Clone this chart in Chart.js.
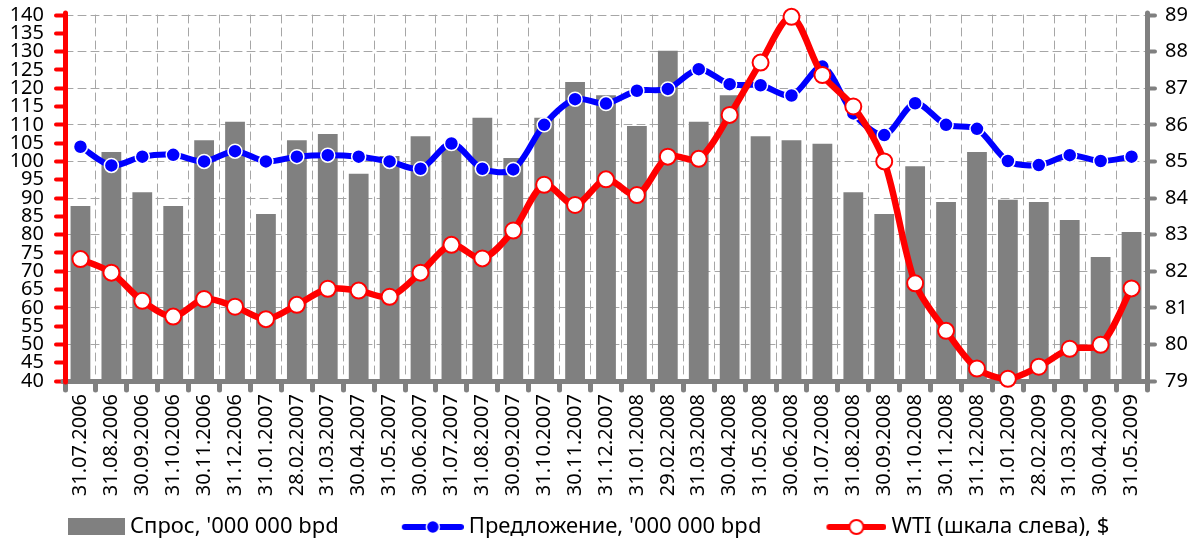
<!DOCTYPE html>
<html>
<head>
<meta charset="utf-8">
<script src="https://cdn.jsdelivr.net/npm/chart.js@4.4.1/dist/chart.umd.min.js"></script>
<style>
  html, body { margin: 0; padding: 0; background: #fff; }
  #wrap { width: 1194px; height: 545px; }
</style>
</head>
<body>
<div id="wrap"><canvas id="chart" width="1194" height="545"></canvas></div>
<script>
// month-end dates on the category axis
const dates = [
  '31.07.2006', '31.08.2006', '30.09.2006', '31.10.2006', '30.11.2006', '31.12.2006',
  '31.01.2007', '28.02.2007', '31.03.2007', '30.04.2007', '31.05.2007', '30.06.2007',
  '31.07.2007', '31.08.2007', '30.09.2007', '31.10.2007', '30.11.2007', '31.12.2007',
  '31.01.2008', '29.02.2008', '31.03.2008', '30.04.2008', '31.05.2008', '30.06.2008',
  '31.07.2008', '31.08.2008', '30.09.2008', '31.10.2008', '30.11.2008', '31.12.2008',
  '31.01.2009', '28.02.2009', '31.03.2009', '30.04.2009', '31.05.2009'
];

// demand, '000 000 bpd (right scale)
const demand = [
  83.78, 85.26, 84.16, 83.78, 85.58, 86.08, 83.56, 85.58, 85.75, 84.66,
  85.15, 85.69, 85.45, 86.19, 85.09, 86.19, 87.17, 86.81, 85.97, 88.02,
  86.08, 86.81, 85.69, 85.58, 85.48, 84.16, 83.56, 84.87, 83.89, 85.26,
  83.95, 83.89, 83.40, 82.39, 83.07
];

// supply, '000 000 bpd (right scale)
const supply = [
  85.40, 84.89, 85.13, 85.18, 85.00, 85.28, 85.00, 85.13, 85.17, 85.13,
  85.00, 84.80, 85.49, 84.80, 84.78, 86.00, 86.70, 86.58, 86.93, 86.98,
  87.52, 87.11, 87.08, 86.80, 87.59, 86.31, 85.72, 86.59, 86.00, 85.89,
  85.01, 84.90, 85.17, 85.01, 85.13
];

// WTI, $ (left scale)
const wti = [
  73.3, 69.6, 61.9, 57.6, 62.4, 60.3, 56.9, 60.8, 65.2, 64.7,
  63.0, 69.6, 77.2, 73.5, 81.1, 93.6, 88.1, 95.1, 90.8, 101.3,
  100.7, 112.7, 127.0, 139.5, 123.6, 115.0, 100.0, 66.7, 53.7, 43.4,
  40.6, 43.9, 48.8, 49.9, 65.3
];

const seriesNames = ["Спрос, '000 000 bpd", "Предложение, '000 000 bpd", 'WTI (шкала слева), $'];

const leftMin = 40, leftMax = 140, leftStep = 5;
const rightMin = 79, rightMax = 89, rightStep = 1;

const FONT = { family: "'Noto Sans', 'Open Sans', sans-serif", size: 20 };
const LEGEND_FONT = { family: "'Noto Sans', 'Open Sans', sans-serif", size: 22 };
const GRAY = '#808080';
const BOX_W = 101; // legend box, symbol sits at its right end

// legend symbols drawn on small canvases (right-aligned, transparent on the left)
function legendSymbol(kind) {
  const c = document.createElement('canvas');
  c.width = BOX_W + 12; c.height = 22;
  const g = c.getContext('2d');
  const r = c.width;
  if (kind === 'bar') {
    g.fillStyle = GRAY;
    g.fillRect(r - 57, 2, 57, 17);
  } else {
    const col = kind === 'blue' ? '#0000ff' : '#ff0000';
    const len = kind === 'blue' ? 62 : 60;
    const cx = r - len / 2;
    g.strokeStyle = col;
    g.lineWidth = 6;
    g.lineCap = 'round';
    g.beginPath(); g.moveTo(r - len + 3, 11); g.lineTo(r - 3, 11); g.stroke();
    g.beginPath();
    g.arc(cx, 11, kind === 'blue' ? 6.5 : 7, 0, Math.PI * 2);
    if (kind === 'blue') {
      g.fillStyle = col; g.fill();
      g.strokeStyle = '#fff'; g.lineWidth = 1.5; g.stroke();
    } else {
      g.fillStyle = '#fff'; g.fill();
      g.strokeStyle = col; g.lineWidth = 2; g.stroke();
    }
  }
  return c;
}
const symbols = [legendSymbol('bar'), legendSymbol('blue'), legendSymbol('red')];

// rounded ends on axis lines and tick marks
const roundCaps = {
  id: 'roundCaps',
  beforeDraw(chart) { chart.ctx.lineCap = 'round'; }
};

// fixed axis sizes, no extra label padding above the plot
function fixWidth(w) {
  return function (s) {
    s.width = w;
    s.paddingTop = 0;
    s.paddingBottom = 0;
  };
}

new Chart(document.getElementById('chart'), {
  type: 'bar',
  data: {
    labels: dates,
    datasets: [
      {
        type: 'bar',
        label: seriesNames[0],
        data: demand,
        yAxisID: 'yR',
        backgroundColor: GRAY,
        barPercentage: 0.64,
        categoryPercentage: 1,
        order: 3
      },
      {
        type: 'line',
        label: seriesNames[1],
        data: supply,
        yAxisID: 'yR',
        borderColor: '#0000ff',
        borderWidth: 6,
        pointRadius: 7,
        pointBackgroundColor: '#0000ff',
        pointBorderColor: '#ffffff',
        pointBorderWidth: 1.5,
        tension: 0.3,
        clip: false,
        order: 2
      },
      {
        type: 'line',
        label: seriesNames[2],
        data: wti,
        yAxisID: 'yL',
        borderColor: '#ff0000',
        borderWidth: 6.5,
        pointRadius: 8,
        pointBackgroundColor: '#ffffff',
        pointBorderColor: '#ff0000',
        pointBorderWidth: 2,
        tension: 0.3,
        clip: false,
        order: 1
      }
    ]
  },
  options: {
    responsive: false,
    animation: false,
    devicePixelRatio: 1,
    layout: { padding: { top: 15, left: 0, right: 0, bottom: -3 } },
    plugins: {
      tooltip: { enabled: false },
      legend: {
        position: 'bottom',
        align: 'start',
        labels: {
          usePointStyle: true,
          pointStyleWidth: BOX_W,
          padding: 18,
          color: '#000',
          font: LEGEND_FONT,
          sort: (a, b) => a.datasetIndex - b.datasetIndex,
          generateLabels(chart) {
            const items = Chart.defaults.plugins.legend.labels.generateLabels(chart);
            items.forEach(it => { it.pointStyle = symbols[it.datasetIndex]; });
            return items;
          }
        }
      }
    },
    scales: {
      x: {
        offset: true,
        grid: {
          offset: true,
          color: '#a6a6a6',
          lineWidth: 1,
          tickLength: 9,
          tickColor: GRAY,
          tickWidth: 5,
          tickBorderDash: []
        },
        border: { display: true, color: GRAY, width: 5, dash: [8, 5] },
        ticks: { autoSkip: false, minRotation: 90, maxRotation: 90, padding: 4, color: '#000', font: FONT },
        afterFit(s) { s.height = 117; }
      },
      yL: {
        position: 'left',
        min: leftMin,
        max: leftMax,
        grid: { drawOnChartArea: false, tickLength: 9, tickColor: '#ff0000', tickWidth: 4 },
        border: { display: true, color: '#ff0000', width: 5 },
        ticks: { stepSize: leftStep, autoSkip: false, padding: 12, color: '#000', font: FONT },
        afterFit: fixWidth(65)
      },
      yR: {
        position: 'right',
        min: rightMin,
        max: rightMax,
        grid: {
          color: '#a6a6a6',
          lineWidth: 1,
          tickLength: 8,
          tickColor: GRAY,
          tickWidth: 4,
          tickBorderDash: []
        },
        border: { display: true, color: GRAY, width: 5, dash: [8, 5] },
        ticks: { stepSize: rightStep, autoSkip: false, padding: 10, color: '#000', font: FONT },
        afterFit: fixWidth(47)
      }
    }
  },
  plugins: [roundCaps]
});
</script>
</body>
</html>
